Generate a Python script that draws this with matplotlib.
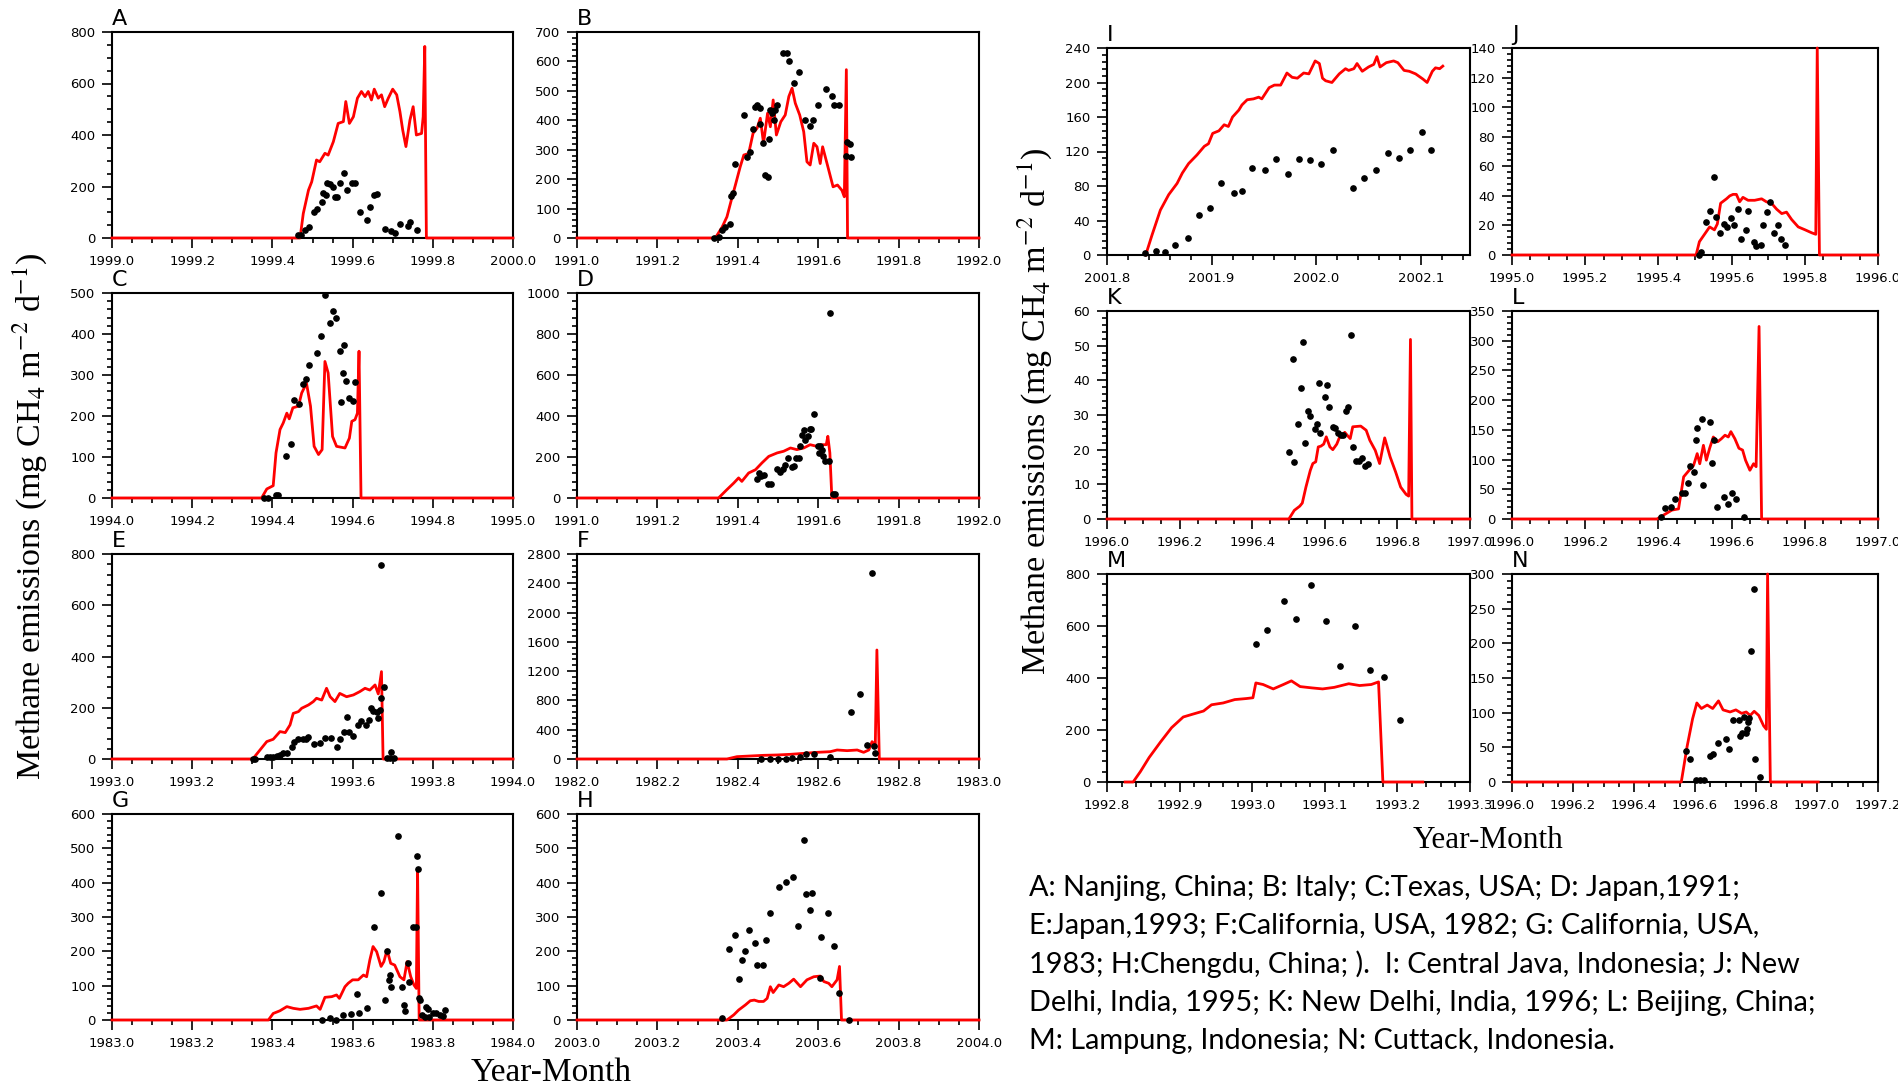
import matplotlib
matplotlib.use("Agg")
import matplotlib.pyplot as plt
import numpy as np
from matplotlib.ticker import MultipleLocator, FormatStrFormatter

# ---------------- data (decimal year, mg CH4 m-2 d-1) ----------------
# A: Nanjing, China
a_mod_t = [1999.0, 1999.469, 1999.477, 1999.490, 1999.498, 1999.510, 1999.518, 1999.531, 1999.539, 1999.552,
           1999.564, 1999.577, 1999.583, 1999.592, 1999.602, 1999.612, 1999.622, 1999.631, 1999.639, 1999.647,
           1999.654, 1999.664, 1999.672, 1999.680, 1999.689, 1999.700, 1999.710, 1999.718, 1999.725, 1999.733,
           1999.743, 1999.751, 1999.759, 1999.772, 1999.776, 1999.780, 1999.784, 2000.0]
a_mod_v = [0, 0, 95, 186, 218, 303, 296, 329, 322, 374, 445, 452, 530, 445, 471, 543, 569, 549, 569, 536,
           578, 543, 556, 510, 543, 578, 556, 491, 419, 355, 458, 510, 400, 406, 471, 744, 0, 0]
a_obs_t = [1999.463, 1999.471, 1999.481, 1999.492, 1999.504, 1999.510, 1999.523, 1999.527, 1999.533, 1999.535,
           1999.544, 1999.550, 1999.556, 1999.562, 1999.568, 1999.578, 1999.587, 1999.598, 1999.607, 1999.618,
           1999.637, 1999.643, 1999.653, 1999.661, 1999.680, 1999.697, 1999.705, 1999.718, 1999.739, 1999.743,
           1999.761]
a_obs_v = [10, 13, 30, 43, 101, 112, 140, 175, 166, 212, 208, 199, 160, 160, 214, 253, 188, 212, 212, 101,
           69, 121, 166, 170, 34, 26, 21, 53, 47, 62, 30]

# B: Italy
b_mod_t = [1991.0, 1991.344, 1991.361, 1991.373, 1991.386, 1991.394, 1991.406, 1991.415, 1991.427, 1991.438,
           1991.448, 1991.456, 1991.464, 1991.474, 1991.481, 1991.488, 1991.496, 1991.507, 1991.518, 1991.527,
           1991.535, 1991.543, 1991.554, 1991.564, 1991.572, 1991.580, 1991.589, 1991.597, 1991.605, 1991.611,
           1991.622, 1991.637, 1991.648, 1991.659, 1991.665, 1991.670, 1991.673, 1992.0]
b_mod_v = [0, 0, 37, 72, 140, 180, 242, 282, 287, 356, 373, 407, 322, 424, 378, 469, 350, 395, 418, 481,
           509, 458, 418, 361, 259, 248, 322, 310, 253, 310, 253, 174, 180, 162, 140, 572, 0, 0]
b_obs_t = [1991.340, 1991.352, 1991.361, 1991.367, 1991.380, 1991.383, 1991.388, 1991.394, 1991.415, 1991.423,
           1991.431, 1991.439, 1991.444, 1991.448, 1991.454, 1991.456, 1991.462, 1991.468, 1991.474, 1991.477,
           1991.481, 1991.485, 1991.489, 1991.493, 1991.498, 1991.512, 1991.522, 1991.528, 1991.539, 1991.551,
           1991.568, 1991.579, 1991.587, 1991.599, 1991.620, 1991.634, 1991.640, 1991.651, 1991.668, 1991.672,
           1991.678, 1991.682]
b_obs_v = [0, 3, 26, 38, 47, 142, 153, 253, 417, 276, 293, 372, 444, 452, 441, 389, 322, 213, 207, 335,
           435, 424, 401, 435, 451, 628, 628, 600, 528, 565, 401, 381, 401, 451, 506, 483, 451, 451, 277, 326,
           318, 274]

# C: Texas, USA
c_mod_t = [1994.0, 1994.373, 1994.386, 1994.402, 1994.409, 1994.419, 1994.427, 1994.436, 1994.442, 1994.451,
           1994.465, 1994.473, 1994.485, 1994.495, 1994.504, 1994.515, 1994.524, 1994.531, 1994.539, 1994.550,
           1994.560, 1994.581, 1994.592, 1994.598, 1994.606, 1994.612, 1994.616, 1994.621, 1995.0]
c_mod_v = [0, 0, 22, 30, 110, 167, 183, 207, 193, 220, 224, 256, 280, 224, 126, 106, 118, 333, 305, 150,
           126, 122, 146, 187, 191, 207, 358, 0, 0]
c_obs_t = [1994.378, 1994.390, 1994.409, 1994.415, 1994.434, 1994.446, 1994.454, 1994.467, 1994.476, 1994.483,
           1994.492, 1994.510, 1994.522, 1994.531, 1994.544, 1994.550, 1994.558, 1994.568, 1994.572, 1994.575,
           1994.579, 1994.583, 1994.590, 1994.602, 1994.607]
c_obs_v = [0, 0, 8, 8, 102, 132, 238, 230, 278, 290, 325, 354, 394, 496, 428, 457, 439, 359, 233, 305,
           372, 285, 243, 236, 284]

# D: Japan, 1991
d_mod_t = [1991.0, 1991.352, 1991.373, 1991.390, 1991.402, 1991.410, 1991.427, 1991.444, 1991.460, 1991.477,
           1991.498, 1991.514, 1991.531, 1991.547, 1991.564, 1991.580, 1991.597, 1991.609, 1991.620, 1991.624,
           1991.629, 1991.634, 1992.0]
d_mod_v = [0, 0, 41, 73, 98, 81, 122, 138, 171, 203, 220, 228, 244, 236, 244, 260, 252, 260, 260, 301,
           220, 0, 0]
d_obs_t = [1991.448, 1991.452, 1991.458, 1991.464, 1991.474, 1991.483, 1991.498, 1991.506, 1991.512, 1991.518,
           1991.524, 1991.535, 1991.541, 1991.546, 1991.551, 1991.554, 1991.560, 1991.564, 1991.568, 1991.574,
           1991.579, 1991.583, 1991.590, 1991.599, 1991.601, 1991.605, 1991.609, 1991.612, 1991.618, 1991.626,
           1991.629, 1991.637, 1991.643]
d_obs_v = [94, 122, 109, 114, 70, 70, 141, 125, 141, 163, 195, 151, 158, 195, 195, 252, 309, 333, 285, 304,
           337, 337, 410, 252, 220, 252, 232, 207, 179, 179, 902, 21, 21]

# E: Japan, 1993
e_mod_t = [1993.0, 1993.351, 1993.369, 1993.386, 1993.402, 1993.419, 1993.432, 1993.444, 1993.452, 1993.465,
           1993.473, 1993.490, 1993.502, 1993.510, 1993.523, 1993.535, 1993.544, 1993.556, 1993.568, 1993.585,
           1993.602, 1993.618, 1993.631, 1993.643, 1993.656, 1993.664, 1993.672, 1993.676, 1994.0]
e_mod_v = [0, 0, 35, 68, 77, 107, 103, 133, 178, 185, 198, 211, 224, 237, 230, 276, 243, 224, 256, 243,
           250, 263, 276, 269, 289, 254, 341, 0, 0]
e_obs_t = [1993.351, 1993.357, 1993.386, 1993.394, 1993.402, 1993.412, 1993.419, 1993.427, 1993.436, 1993.448,
           1993.454, 1993.465, 1993.476, 1993.485, 1993.490, 1993.504, 1993.519, 1993.531, 1993.545, 1993.560,
           1993.568, 1993.578, 1993.587, 1993.592, 1993.602, 1993.614, 1993.622, 1993.633, 1993.641, 1993.647,
           1993.651, 1993.660, 1993.664, 1993.668, 1993.670, 1993.672, 1993.678, 1993.685, 1993.693, 1993.697,
           1993.704]
e_obs_v = [0, 0, 7, 9, 9, 12, 16, 22, 25, 46, 68, 78, 78, 78, 87, 59, 64, 81, 81, 46,
           78, 104, 163, 107, 88, 133, 150, 133, 152, 198, 189, 182, 161, 191, 240, 757, 281, 3, 3, 26, 3]

# F: California, USA, 1982
f_mod_t = [1982.0, 1982.373, 1982.398, 1982.431, 1982.464, 1982.498, 1982.531, 1982.564, 1982.597, 1982.630,
           1982.647, 1982.672, 1982.697, 1982.713, 1982.726, 1982.734, 1982.742, 1982.746, 1982.752, 1983.0]
f_mod_v = [0, 0, 32, 41, 50, 55, 64, 77, 91, 100, 123, 114, 123, 91, 123, 237, 191, 1489, 0, 0]
f_obs_t = [1982.458, 1982.479, 1982.499, 1982.519, 1982.535, 1982.554, 1982.570, 1982.590, 1982.629, 1982.682,
           1982.705, 1982.721, 1982.735, 1982.738, 1982.742]
f_obs_v = [0, 0, 0, 5, 9, 23, 64, 64, 23, 637, 893, 191, 2546, 182, 77]

# G: California, USA, 1983
g_mod_t = [1983.0, 1983.390, 1983.402, 1983.419, 1983.436, 1983.452, 1983.469, 1983.490, 1983.510, 1983.519,
           1983.531, 1983.548, 1983.560, 1983.567, 1983.581, 1983.589, 1983.600, 1983.614, 1983.627, 1983.635,
           1983.643, 1983.651, 1983.660, 1983.671, 1983.678, 1983.686, 1983.695, 1983.705, 1983.718, 1983.728,
           1983.736, 1983.745, 1983.753, 1983.759, 1983.762, 1983.766, 1984.0]
g_mod_v = [0, 0, 19, 27, 39, 34, 31, 34, 41, 31, 66, 68, 73, 63, 97, 107, 117, 117, 131, 126,
           175, 214, 199, 156, 170, 204, 165, 160, 126, 117, 170, 126, 102, 92, 438, 0, 0]
g_obs_t = [1983.523, 1983.544, 1983.558, 1983.577, 1983.596, 1983.612, 1983.616, 1983.635, 1983.653, 1983.670,
           1983.680, 1983.686, 1983.690, 1983.693, 1983.695, 1983.714, 1983.724, 1983.728, 1983.730, 1983.739,
           1983.741, 1983.751, 1983.758, 1983.761, 1983.763, 1983.766, 1983.769, 1983.774, 1983.780, 1983.784,
           1983.788, 1983.791, 1983.801, 1983.809, 1983.817, 1983.826, 1983.830]
g_obs_v = [0, 5, 0, 15, 17, 76, 21, 34, 272, 370, 58, 202, 117, 131, 95, 535, 95, 44, 27, 167,
           112, 272, 272, 479, 441, 63, 58, 15, 10, 39, 31, 10, 21, 19, 15, 12, 29]

# H: Chengdu, China
h_mod_t = [2003.0, 2003.373, 2003.390, 2003.402, 2003.419, 2003.431, 2003.441, 2003.452, 2003.464, 2003.473,
           2003.481, 2003.488, 2003.502, 2003.514, 2003.527, 2003.539, 2003.556, 2003.572, 2003.589, 2003.605,
           2003.614, 2003.626, 2003.634, 2003.647, 2003.653, 2003.658, 2004.0]
h_mod_v = [0, 0, 15, 29, 44, 56, 58, 54, 54, 63, 97, 80, 102, 97, 107, 119, 97, 117, 126, 128,
           112, 107, 97, 117, 156, 0, 0]
h_obs_t = [2003.361, 2003.377, 2003.394, 2003.402, 2003.410, 2003.419, 2003.429, 2003.442, 2003.448, 2003.462,
           2003.470, 2003.481, 2003.503, 2003.520, 2003.537, 2003.550, 2003.564, 2003.570, 2003.579, 2003.585,
           2003.605, 2003.608, 2003.624, 2003.640, 2003.651, 2003.676]
h_obs_v = [5, 207, 248, 119, 175, 202, 261, 224, 161, 161, 234, 313, 386, 402, 416, 275, 524, 367, 321, 370,
           121, 241, 311, 216, 80, 0]

# I: Central Java, Indonesia
i_mod_t = [2001.837, 2001.843, 2001.851, 2001.859, 2001.867, 2001.872, 2001.878, 2001.886, 2001.893, 2001.897,
           2001.901, 2001.907, 2001.912, 2001.916, 2001.920, 2001.926, 2001.929, 2001.934, 2001.940, 2001.945,
           2001.948, 2001.955, 2001.960, 2001.966, 2001.972, 2001.977, 2001.982, 2001.988, 2001.993, 2001.999,
           2002.003, 2002.006, 2002.009, 2002.015, 2002.022, 2002.028, 2002.031, 2002.036, 2002.039, 2002.044,
           2002.050, 2002.055, 2002.058, 2002.061, 2002.067, 2002.074, 2002.078, 2002.084, 2002.089, 2002.095,
           2002.102, 2002.106, 2002.111, 2002.114, 2002.118, 2002.121]
i_mod_v = [0, 23, 52, 70, 83, 95, 106, 116, 126, 129, 141, 144, 151, 149, 160, 168, 174, 180, 181, 183,
           181, 194, 197, 197, 211, 206, 205, 211, 210, 225, 222, 205, 202, 200, 210, 216, 214, 216, 222, 213,
           218, 221, 230, 218, 223, 225, 223, 214, 213, 210, 204, 200, 213, 217, 216, 219]
i_obs_t = [2001.836, 2001.847, 2001.855, 2001.865, 2001.877, 2001.888, 2001.898, 2001.909, 2001.921, 2001.929,
           2001.939, 2001.951, 2001.962, 2001.973, 2001.984, 2001.994, 2002.005, 2002.016, 2002.035, 2002.046,
           2002.057, 2002.069, 2002.079, 2002.090, 2002.101, 2002.110]
i_obs_v = [2, 5, 4, 12, 20, 46, 54, 84, 72, 74, 101, 99, 111, 94, 111, 110, 105, 122, 78, 89,
           99, 118, 113, 122, 143, 122]

# J: New Delhi, India, 1995
j_mod_t = [1995.0, 1995.503, 1995.512, 1995.526, 1995.540, 1995.553, 1995.561, 1995.570, 1995.586, 1995.595,
           1995.604, 1995.613, 1995.622, 1995.631, 1995.645, 1995.663, 1995.682, 1995.695, 1995.709, 1995.723,
           1995.737, 1995.750, 1995.764, 1995.782, 1995.801, 1995.819, 1995.830, 1995.834, 1995.840, 1996.0]
j_mod_v = [0, 0, 9, 14, 19, 17, 21, 35, 38, 40, 41, 41, 36, 39, 37, 37, 38, 36, 35, 31,
           28, 29, 24, 19, 17, 15, 14, 150, 0, 0]
j_obs_t = [1995.510, 1995.517, 1995.531, 1995.542, 1995.551, 1995.558, 1995.569, 1995.578, 1995.587, 1995.599,
           1995.607, 1995.618, 1995.626, 1995.638, 1995.646, 1995.661, 1995.668, 1995.679, 1995.685, 1995.698,
           1995.706, 1995.715, 1995.726, 1995.736, 1995.745]
j_obs_v = [0, 2, 22, 30, 53, 26, 15, 21, 19, 25, 20, 31, 11, 17, 30, 9, 6, 7, 20, 29, 36, 15, 20, 11, 7]

# K: New Delhi, India, 1996
k_mod_t = [1996.0, 1996.501, 1996.516, 1996.531, 1996.538, 1996.548, 1996.560, 1996.567, 1996.575, 1996.582,
           1996.589, 1996.597, 1996.604, 1996.614, 1996.622, 1996.633, 1996.641, 1996.648, 1996.655, 1996.663,
           1996.670, 1996.677, 1996.699, 1996.714, 1996.724, 1996.739, 1996.751, 1996.765, 1996.780, 1996.795,
           1996.809, 1996.824, 1996.831, 1996.836, 1996.840, 1997.0]
k_mod_v = [0, 0, 2.5, 3.7, 4.6, 9.2, 14, 16, 16.5, 20.8, 21, 21.6, 23.7, 20.8, 20, 21.6, 23.7, 24.2, 25, 24,
           23.2, 26.6, 26.8, 25.6, 22.7, 19.8, 16, 23.4, 17.9, 13.6, 9.2, 7.1, 6.6, 51.8, 0, 0]
k_obs_t = [1996.501, 1996.516, 1996.512, 1996.525, 1996.534, 1996.541, 1996.545, 1996.553, 1996.560, 1996.572,
           1996.578, 1996.585, 1996.588, 1996.600, 1996.606, 1996.611, 1996.622, 1996.628, 1996.636, 1996.644,
           1996.651, 1996.658, 1996.664, 1996.672, 1996.679, 1996.686, 1996.695, 1996.702, 1996.711, 1996.718]
k_obs_v = [19.3, 16.5, 46.1, 27.5, 37.9, 51.1, 22.0, 31.1, 29.7, 26.1, 27.5, 39.3, 24.9, 35.2, 38.7, 32.4,
           26.6, 26.2, 24.7, 24.2, 24.2, 31.1, 32.4, 53.1, 20.8, 16.7, 16.7, 17.5, 15.2, 16.0]

# L: Beijing, China
l_mod_t = [1996.0, 1996.396, 1996.418, 1996.437, 1996.455, 1996.469, 1996.484, 1996.496, 1996.506, 1996.513,
           1996.523, 1996.531, 1996.540, 1996.550, 1996.562, 1996.572, 1996.582, 1996.591, 1996.598, 1996.609,
           1996.620, 1996.630, 1996.638, 1996.650, 1996.660, 1996.667, 1996.675, 1996.682, 1997.0]
l_mod_v = [0, 0, 8, 15, 17, 71, 82, 90, 110, 93, 124, 99, 119, 138, 130, 135, 141, 138, 147, 135,
           119, 116, 99, 82, 93, 88, 324, 0, 0]
l_obs_t = [1996.408, 1996.418, 1996.435, 1996.444, 1996.465, 1996.472, 1996.480, 1996.487, 1996.496, 1996.503,
           1996.506, 1996.518, 1996.523, 1996.540, 1996.547, 1996.553, 1996.559, 1996.579, 1996.591, 1996.601,
           1996.613, 1996.635]
l_obs_v = [4, 19, 20, 34, 43, 43, 61, 90, 79, 133, 153, 169, 57, 164, 94, 133, 21, 37, 26, 44, 33, 4]

# M: Lampung, Indonesia
m_mod_t = [1992.825, 1992.836, 1992.846, 1992.858, 1992.874, 1992.889, 1992.905, 1992.917, 1992.933, 1992.944,
           1992.960, 1992.976, 1992.992, 1993.001, 1993.005, 1993.015, 1993.029, 1993.043, 1993.054, 1993.066,
           1993.082, 1993.097, 1993.113, 1993.133, 1993.148, 1993.164, 1993.174, 1993.180, 1993.235]
m_mod_v = [0, 0, 40, 94, 155, 209, 250, 260, 273, 297, 304, 317, 321, 324, 381, 375, 358, 375, 389, 367,
           362, 358, 364, 378, 371, 375, 385, 0, 0]
m_obs_t = [1993.005, 1993.021, 1993.044, 1993.060, 1993.081, 1993.101, 1993.121, 1993.142, 1993.162, 1993.181,
           1993.203]
m_obs_v = [530, 583, 696, 627, 757, 619, 448, 600, 432, 405, 238]

# N: Cuttack
n_mod_t = [1996.0, 1996.555, 1996.574, 1996.592, 1996.606, 1996.621, 1996.640, 1996.658, 1996.677, 1996.692,
           1996.715, 1996.734, 1996.753, 1996.768, 1996.781, 1996.794, 1996.809, 1996.825, 1996.834, 1996.838,
           1996.847, 1997.004]
n_mod_v = [0, 0, 51, 91, 114, 106, 111, 106, 117, 104, 101, 104, 99, 101, 96, 102, 96, 81, 76, 320, 0, 0]
n_obs_t = [1996.570, 1996.583, 1996.602, 1996.617, 1996.630, 1996.649, 1996.658, 1996.674, 1996.700, 1996.711,
           1996.725, 1996.743, 1996.749, 1996.755, 1996.762, 1996.768, 1996.772, 1996.775, 1996.777, 1996.785,
           1996.794, 1996.796, 1996.813]
n_obs_v = [45, 33, 3, 3, 3, 38, 40, 56, 62, 47, 89, 89, 67, 71, 94, 71, 77, 86, 92, 189, 278, 33, 7]

caption_lines = [
    "A: Nanjing, China; B: Italy; C:Texas, USA; D: Japan,1991;",
    "E:Japan,1993; F:California, USA, 1982; G: California, USA,",
    "1983; H:Chengdu, China; ).  I: Central Java, Indonesia; J: New",
    "Delhi, India, 1995; K: New Delhi, India, 1996; L: Beijing, China;",
    "M: Lampung, Indonesia; N: Cuttack, Indonesia.",
]

# ---------------- layout (pixel boxes of the 1899x1089 canvas) ----------------
W, H = 1899, 1089


def box(x0, x1, top, bottom):
    return [x0 / W, 1 - bottom / H, (x1 - x0) / W, (bottom - top) / H]


# letter, box, xlim, x major, x minor, ymax, y major, y minor, model, obs
panels = [
    ("A", box(112, 513, 32, 238), (1999.0, 2000.0), 0.2, 0.05, 800, 200, 50, a_mod_t, a_mod_v, a_obs_t, a_obs_v),
    ("B", box(577, 979, 32, 238), (1991.0, 1992.0), 0.2, 0.05, 700, 100, 20, b_mod_t, b_mod_v, b_obs_t, b_obs_v),
    ("C", box(112, 513, 293, 498), (1994.0, 1995.0), 0.2, 0.05, 500, 100, 20, c_mod_t, c_mod_v, c_obs_t, c_obs_v),
    ("D", box(577, 979, 293, 498), (1991.0, 1992.0), 0.2, 0.05, 1000, 200, 40, d_mod_t, d_mod_v, d_obs_t, d_obs_v),
    ("E", box(112, 513, 554, 759), (1993.0, 1994.0), 0.2, 0.05, 800, 200, 40, e_mod_t, e_mod_v, e_obs_t, e_obs_v),
    ("F", box(577, 979, 554, 759), (1982.0, 1983.0), 0.2, 0.05, 2800, 400, 80, f_mod_t, f_mod_v, f_obs_t, f_obs_v),
    ("G", box(112, 513, 814, 1020), (1983.0, 1984.0), 0.2, 0.05, 600, 100, 20, g_mod_t, g_mod_v, g_obs_t, g_obs_v),
    ("H", box(577, 979, 814, 1020), (2003.0, 2004.0), 0.2, 0.05, 600, 100, 20, h_mod_t, h_mod_v, h_obs_t, h_obs_v),
    ("I", box(1107, 1470, 48, 255), (2001.8, 2002.147), 0.1, 0.02, 240, 40, 8, i_mod_t, i_mod_v, i_obs_t, i_obs_v),
    ("J", box(1512, 1878, 48, 255), (1995.0, 1996.0), 0.2, 0.05, 140, 20, 4, j_mod_t, j_mod_v, j_obs_t, j_obs_v),
    ("K", box(1107, 1470, 311, 519), (1996.0, 1997.0), 0.2, 0.05, 60, 10, 2, k_mod_t, k_mod_v, k_obs_t, k_obs_v),
    ("L", box(1512, 1878, 311, 519), (1996.0, 1997.0), 0.2, 0.05, 350, 50, 10, l_mod_t, l_mod_v, l_obs_t, l_obs_v),
    ("M", box(1107, 1470, 574, 782), (1992.8, 1993.3), 0.1, 0.02, 800, 200, 40, m_mod_t, m_mod_v, m_obs_t, m_obs_v),
    ("N", box(1512, 1878, 574, 782), (1996.0, 1997.2), 0.2, 0.05, 300, 50, 10, n_mod_t, n_mod_v, n_obs_t, n_obs_v),
]

plt.rcParams['mathtext.fontset'] = 'stix'

fig = plt.figure(figsize=(W / 100, H / 100), dpi=100)
fig.patch.set_facecolor('white')

for letter, rect, xlim, xmaj, xmin, ymax, ymaj, ymin, mt, mv, ot, ov in panels:
    ax = fig.add_axes(rect)
    # model (red line); spikes taller than the axis are cut at the frame
    ax.plot(mt, np.minimum(mv, ymax), color='red', lw=2.0, zorder=3, clip_on=False,
            solid_joinstyle='round')
    ax.plot(ot, ov, 'o', color='black', ms=3.8, zorder=4, clip_on=False)
    ax.set_xlim(*xlim)
    ax.set_ylim(0, ymax)
    ax.xaxis.set_major_locator(MultipleLocator(xmaj))
    ax.xaxis.set_minor_locator(MultipleLocator(xmin))
    ax.yaxis.set_major_locator(MultipleLocator(ymaj))
    ax.yaxis.set_minor_locator(MultipleLocator(ymin))
    ax.xaxis.set_major_formatter(FormatStrFormatter('%.1f'))
    ax.yaxis.set_major_formatter(FormatStrFormatter('%d'))
    ax.tick_params(which='both', direction='out', top=False, right=False, width=1.2)
    ax.tick_params(which='major', length=7, labelsize=9.5, pad=5)
    ax.tick_params(which='minor', length=3.5)
    for sp in ax.spines.values():
        sp.set_linewidth(1.5)
    ax.annotate(letter, xy=(0, 1), xycoords='axes fraction', xytext=(0, 2),
                textcoords='offset points', ha='left', va='bottom', fontsize=16)

ylab = "Methane emissions (mg CH$_4$ m$^{-2}$ d$^{-1}$)"
fig.text(30 / W, 1 - 516 / H, ylab, rotation=90, ha='center', va='center',
         fontsize=24.5, family='Liberation Serif')
fig.text(1035 / W, 1 - 411 / H, ylab, rotation=90, ha='center', va='center',
         fontsize=24.5, family='Liberation Serif')
fig.text(551 / W, 1 - 1073 / H, "Year-Month", ha='center', va='center',
         fontsize=24, family='Liberation Serif')
fig.text(1488 / W, 1 - 840 / H, "Year-Month", ha='center', va='center',
         fontsize=22.5, family='Liberation Serif')

for k, line in enumerate(caption_lines):
    fig.text(1029 / W, 1 - (888 + 38.3 * k) / H, line, ha='left', va='center',
             fontsize=20.8, family='Lato')

fig.savefig("out.png", dpi=100, facecolor='white')
